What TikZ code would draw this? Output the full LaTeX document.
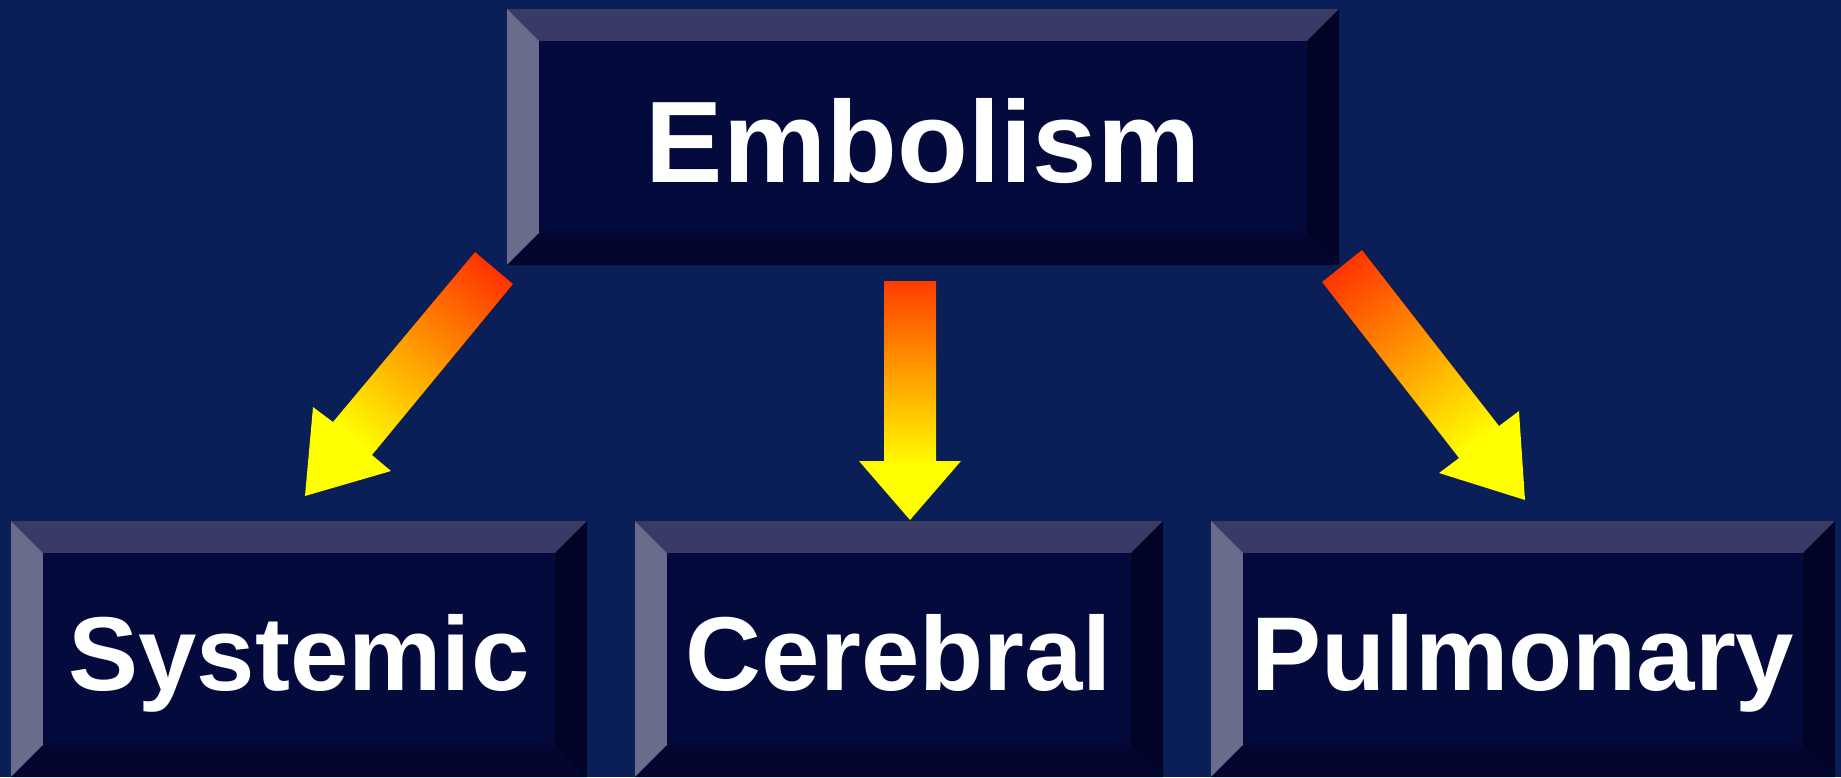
\documentclass[tikz,border=0pt]{standalone}
\usepackage{fontspec}
\setmainfont{Liberation Sans}
\usetikzlibrary{calc}
\definecolor{bg}{HTML}{0A1F57}
\definecolor{face}{HTML}{050A3D}
\definecolor{bvtop}{HTML}{3A3A66}
\definecolor{bvleft}{HTML}{6A6C8C}
\definecolor{bvbot}{HTML}{04062F}
\definecolor{bvright}{HTML}{020425}
\definecolor{ared}{HTML}{FF3300}
\definecolor{ayellow}{HTML}{FFFF00}
\pgfdeclareverticalshading{arrowgrad}{100bp}{color(0bp)=(ayellow); color(36bp)=(ayellow); color(77bp)=(ared); color(100bp)=(ared)}
\pgfdeclareverticalshading{diaggrad}{100bp}{color(0bp)=(ayellow); color(31bp)=(ayellow); color(80bp)=(ared); color(100bp)=(ared)}
\newcommand\mybevel[1]{%
  \fill[bvtop] (#1.north west) -- (#1.north east) -- ([shift={(-32,32)}]#1.north east) -- ([shift={(32,32)}]#1.north west) -- cycle;
  \fill[bvleft] (#1.north west) -- ([shift={(32,32)}]#1.north west) -- ([shift={(32,-32)}]#1.south west) -- (#1.south west) -- cycle;
  \fill[bvbot] (#1.south west) -- ([shift={(32,-32)}]#1.south west) -- ([shift={(-32,-32)}]#1.south east) -- (#1.south east) -- cycle;
  \fill[bvright] (#1.north east) -- ([shift={(-32,32)}]#1.north east) -- ([shift={(-32,-32)}]#1.south east) -- (#1.south east) -- cycle;
  \fill[face] ([shift={(32,32)}]#1.north west) rectangle ([shift={(-32,-32)}]#1.south east);
}
\begin{document}
\begin{tikzpicture}[x=1pt,y=-1pt,
  boxframe/.style={inner sep=0pt, outer sep=0pt, minimum height=256},
  lbl/.style={text=white, inner sep=0pt, anchor=base},
  biglbl/.style={lbl, font=\bfseries\fontsize{116}{120}\selectfont},
  smalllbl/.style={lbl, font=\bfseries\fontsize{105}{110}\selectfont},
  arrowfill/.style={shading=arrowgrad},
  diagfill/.style={shading=diaggrad}]
\fill[bg] (0,0) rectangle (1841,777);
\useasboundingbox (0,0) rectangle (1841,777);

\node[boxframe, minimum width=832] (emb) at (923,137) {};
\mybevel{emb}
\node[boxframe, minimum width=576] (sys) at (299,649) {};
\mybevel{sys}
\node[boxframe, minimum width=528] (cer) at (899,649) {};
\mybevel{cer}
\node[boxframe, minimum width=624] (pul) at (1523,649) {};
\mybevel{pul}

\node[biglbl] (embt) at (923,182) {Embolism};
\node[smalllbl] (syst) at (299,690) {Systemic};
\node[smalllbl] (cert) at (899,690) {Cerebral};
\node[smalllbl] (pult) at (1523,690) {Pulmonary};

% arrows
\fill[diagfill, shading angle=-40] (475,252) -- (513,284) -- (372,455) -- (391,471) -- (305,496) -- (313,407) -- (333,422) -- cycle;
\fill[arrowfill] (884,281) -- (936,281) -- (936,461) -- (961,461) -- (910,520) -- (859,461) -- (884,461) -- cycle;
\fill[diagfill, shading angle=38] (1362,250) -- (1322,282) -- (1459,458) -- (1439,473) -- (1525,500) -- (1519,411) -- (1499,426) -- cycle;
\end{tikzpicture}
\end{document}
